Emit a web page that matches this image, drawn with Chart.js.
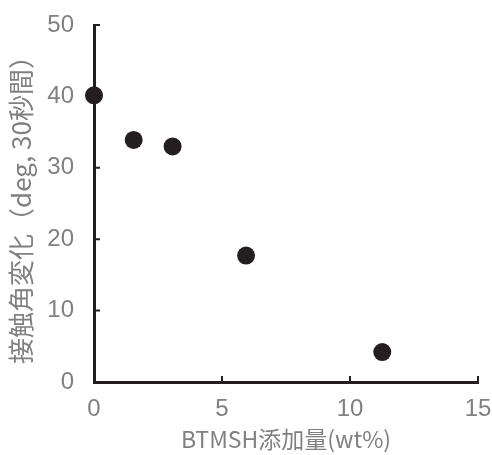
<!DOCTYPE html>
<html>
<head>
<meta charset="utf-8">
<script src="https://cdn.jsdelivr.net/npm/chart.js@4"></script>
<style>
  html, body { margin: 0; padding: 0; background: #ffffff; }
  #wrap { width: 492px; height: 455px; }
</style>
</head>
<body>
<div id="wrap"><canvas id="chart"></canvas></div>
<script>
// データ
const additionWt = [0, 1.55, 3.07, 5.94, 11.26];
const angleChange = [40.15, 33.9, 33.0, 17.7, 4.2];
const xTicks = [0, 5, 10, 15];
const yTicks = [0, 10, 20, 30, 40, 50];
const xTitle = 'BTMSH添加量(wt%)';
const yTitle = '接触角変化（deg, 30秒間）';

const INK = '#231f20';
const GREY = '#808080';
const TICK_FONT = "'Liberation Sans Narrow', 'Liberation Sans', sans-serif";
const TITLE_FONT = "'Noto Sans CJK JP', 'Liberation Sans', sans-serif";

// 内向きの目盛り線を描くプラグイン
const innerTicks = {
  id: 'innerTicks',
  afterDraw(chart) {
    const { ctx, scales: { x, y } } = chart;
    const len = 6;
    ctx.save();
    ctx.strokeStyle = INK;
    ctx.lineWidth = 2;
    ctx.beginPath();
    xTicks.forEach(v => {
      const px = x.getPixelForValue(v);
      ctx.moveTo(px, y.bottom);
      ctx.lineTo(px, y.bottom - len);
    });
    yTicks.forEach(v => {
      const py = y.getPixelForValue(v);
      ctx.moveTo(x.left, py);
      ctx.lineTo(x.left + len, py);
    });
    ctx.stroke();
    ctx.restore();
  }
};

new Chart(document.getElementById('chart'), {
  type: 'scatter',
  data: {
    datasets: [{
      data: additionWt.map((v, i) => ({ x: v, y: angleChange[i] })),
      backgroundColor: INK,
      borderColor: INK,
      pointRadius: 9,
      pointHoverRadius: 9,
      borderWidth: 0
    }]
  },
  options: {
    responsive: true,
    maintainAspectRatio: false,
    animation: false,
    clip: false,
    layout: { padding: { top: 25, right: 14, left: 0, bottom: 0 } },
    plugins: {
      legend: { display: false },
      tooltip: { enabled: false }
    },
    scales: {
      x: {
        type: 'linear',
        min: 0,
        max: 15,
        afterBuildTicks: s => { s.ticks = xTicks.map(v => ({ value: v })); },
        afterFit: s => { s.height = 73; s.paddingLeft = 0; s.paddingRight = 0; },
        grid: { display: false, drawTicks: false },
        border: { display: true, color: INK, width: 3 },
        ticks: {
          color: GREY,
          padding: 13,
          maxRotation: 0,
          font: { family: TICK_FONT, size: 24 }
        },
        title: {
          display: true,
          text: xTitle,
          color: GREY,
          padding: { top: 2, bottom: 2 },
          font: { family: TITLE_FONT, size: 23 }
        }
      },
      y: {
        type: 'linear',
        min: 0,
        max: 50,
        afterBuildTicks: s => { s.ticks = yTicks.map(v => ({ value: v })); },
        afterFit: s => { s.width = 94; s.paddingTop = 0; s.paddingBottom = 0; },
        grid: { display: false, drawTicks: false },
        border: { display: true, color: INK, width: 3 },
        ticks: {
          color: GREY,
          padding: 20,
          font: { family: TICK_FONT, size: 24 }
        },
        title: {
          display: true,
          text: yTitle,
          color: GREY,
          padding: { top: 6, bottom: 0 },
          font: { family: TITLE_FONT, size: 26 }
        }
      }
    }
  },
  plugins: [innerTicks]
});
</script>
</body>
</html>
